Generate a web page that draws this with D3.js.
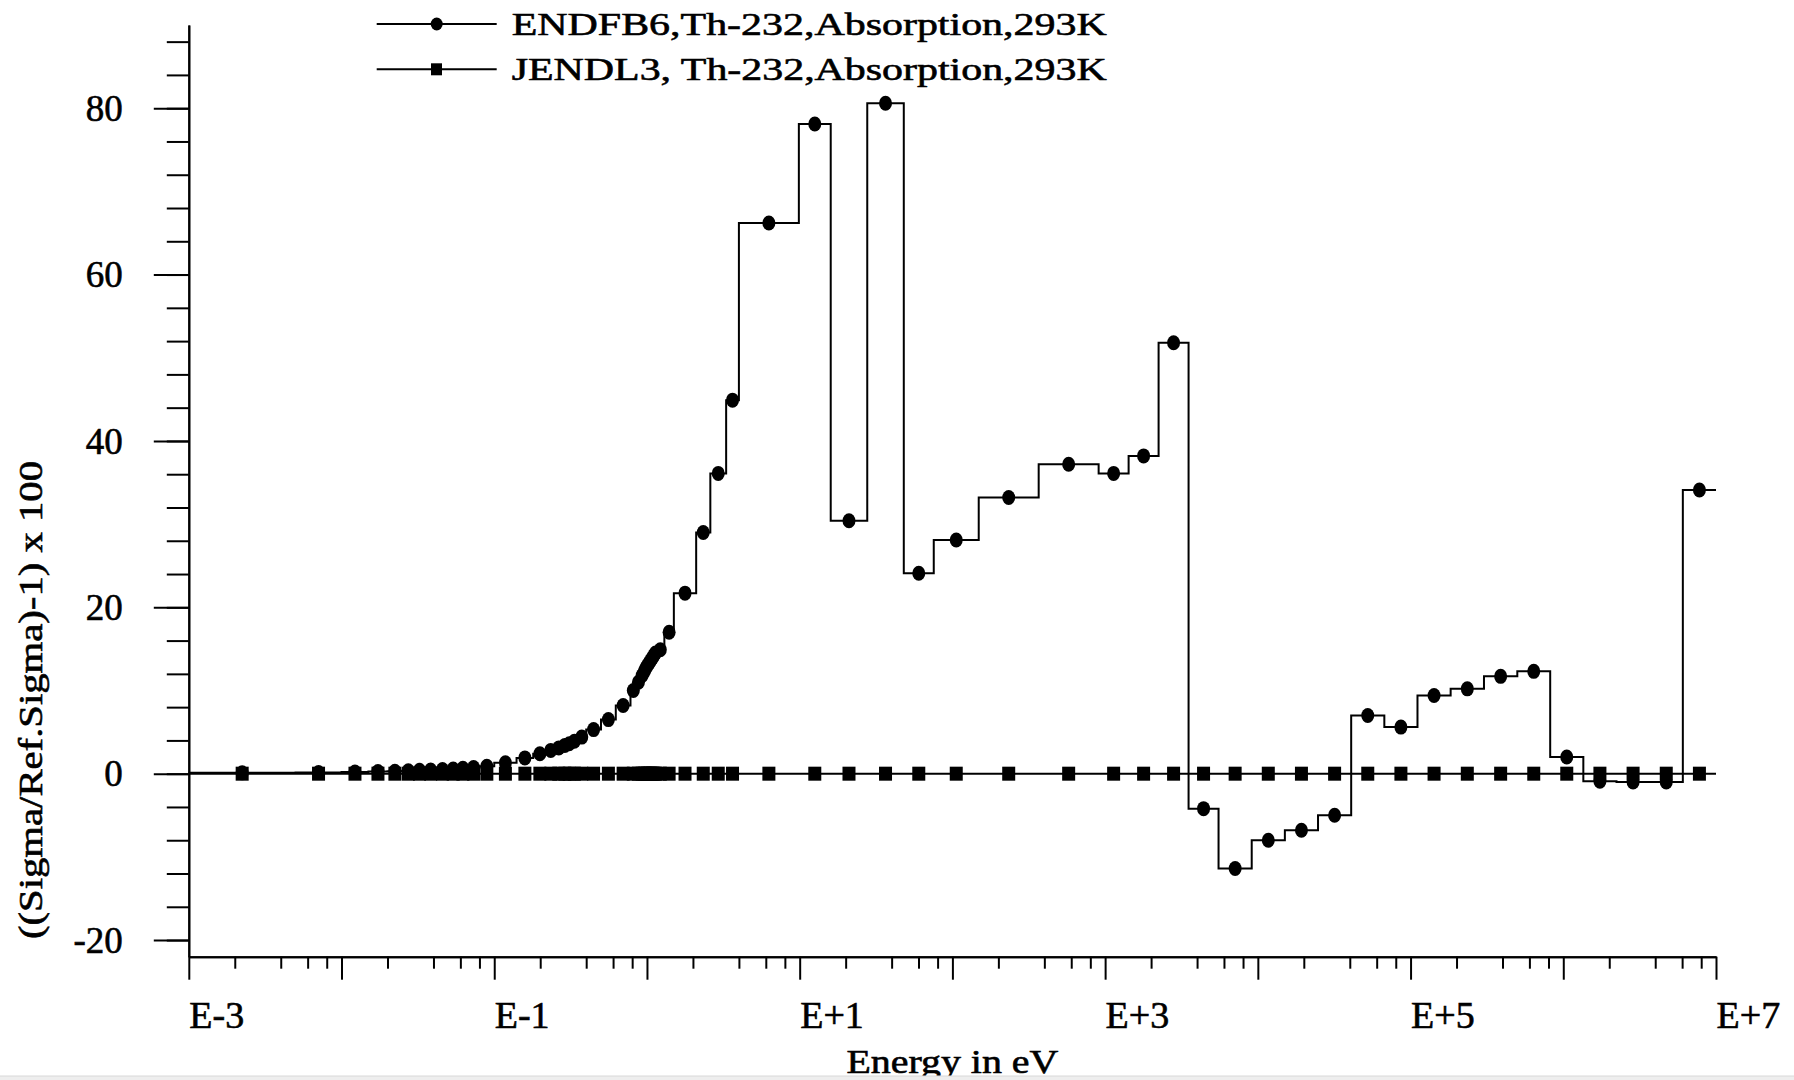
<!DOCTYPE html>
<html>
<head>
<meta charset="utf-8">
<script src="https://cdn.jsdelivr.net/npm/d3@7"></script>
<style>
  html, body { margin: 0; padding: 0; background: #ffffff; }
  svg { display: block; }
  text { font-family: "Liberation Serif", "Times New Roman", serif; fill: #000; stroke: #000; stroke-width: 0.6px; }
</style>
</head>
<body>
<svg id="chart" width="1794" height="1080"></svg>
<script>
// ---- Data (WIMS 69-group structure, plotted from 1E-3 eV) ----
const energyBounds = [0.001, 0.005, 0.01, 0.015, 0.02, 0.025, 0.03, 0.035, 0.042, 0.05,
  0.058, 0.067, 0.08, 0.1, 0.14, 0.18, 0.22, 0.25, 0.28, 0.3, 0.32, 0.35, 0.4, 0.5, 0.625,
  0.78, 0.85, 0.91, 0.95, 0.972, 0.996, 1.02, 1.045, 1.071, 1.097, 1.123, 1.15, 1.3, 1.5,
  2.1, 2.6, 3.3, 4.0, 9.877, 15.968, 27.7, 48.052, 75.5014, 148.728, 367.262, 906.898,
  1425.1, 2239.45, 3519.1, 5530, 9118, 15030, 24780, 40850, 67340, 111000, 183000, 302500,
  500000, 821000, 1353000, 2231000, 3679000, 6065500, 10000000];

const endfb6 = [0.1, 0.15, 0.2, 0.25, 0.3, 0.35, 0.4, 0.45, 0.5, 0.55, 0.65, 0.75, 0.9,
  1.3, 1.9, 2.4, 2.8, 3.1, 3.4, 3.6, 3.9, 4.4, 5.3, 6.5, 8.2,
  10.0, 11.0, 11.8, 12.3, 12.7, 13.0, 13.3, 13.6, 13.9, 14.2, 14.5, 14.9,
  17.0, 21.7, 29.0, 36.1, 44.9, 66.2, 78.1, 30.4, 80.6, 24.1, 28.1, 33.2, 37.2, 36.1, 38.2, 51.8,
  -4.2, -11.4, -8.0, -6.8, -5.0,
  7.0, 5.6, 9.4, 10.2, 11.7, 12.3,
  2.0, -0.9, -1.0, -1.0, 34.1];

const jendl3 = [0, 0, 0, 0, 0, 0, 0, 0, 0, 0, 0, 0, 0, 0, 0, 0, 0, 0, 0, 0, 0, 0, 0,
  0, 0, 0, 0, 0, 0, 0, 0, 0, 0, 0, 0, 0, 0, 0, 0, 0, 0, 0, 0, 0, 0, 0, 0, 0, 0, 0,
  0, 0, 0, 0, 0, 0, 0, 0, 0, 0, 0, 0, 0, 0, 0, 0, 0, 0, 0];

const seriesNames = ["ENDFB6,Th-232,Absorption,293K", "JENDL3, Th-232,Absorption,293K"];
const yMajorTicks = [-20, 0, 20, 40, 60, 80];
const yMajorLabels = ["-20", "0", "20", "40", "60", "80"];
const yMinorTicks = [-20, -16, -12, -8, -4, 0, 4, 8, 12, 16, 20, 24, 28, 32, 36, 40, 44, 48,
  52, 56, 60, 64, 68, 72, 76, 80, 84, 88];
const xMajorTicks = [1e-3, 1e-2, 1e-1, 1e0, 1e1, 1e2, 1e3, 1e4, 1e5, 1e6, 1e7];
const xLabelTicks = [1e-3, 1e-1, 1e1, 1e3, 1e5, 1e7];
const xLabelText = ["E-3", "E-1", "E+1", "E+3", "E+5", "E+7"];
const xMinorMultipliers = [2, 4, 6, 8];
const yTitle = "((Sigma/Ref.Sigma)-1) x 100";
const xTitle = "Energy in eV";

// ---- Layout ----
const L = 188.8, R = 1716, T = 25, B = 956.7;
const svg = d3.select("#chart");
svg.append("rect").attr("width", 1794).attr("height", 1080).attr("fill", "#fff");

const x = d3.scaleLog().domain([1e-3, 1e7]).range([L, R]);
const y = d3.scaleLinear().domain([-22, 90]).range([B, T]);

const xMinorTicks = [];
for (let d = -3; d < 7; d++) xMinorMultipliers.forEach(m => xMinorTicks.push(m * Math.pow(10, d)));

function styleAxis(g) {
  g.selectAll("path.domain").attr("stroke", "#000").attr("stroke-width", 2);
  g.selectAll(".tick line").attr("stroke", "#000").attr("stroke-width", 2);
}

// y axis minor
svg.append("g").attr("transform", `translate(${L},0)`)
  .call(d3.axisLeft(y).tickValues(yMinorTicks).tickSize(22).tickSizeOuter(0).tickFormat(""))
  .call(styleAxis);
// y axis major
const yMaj = svg.append("g").attr("transform", `translate(${L},0)`)
  .call(d3.axisLeft(y).tickValues(yMajorTicks).tickSize(35).tickSizeOuter(0).tickPadding(31)
    .tickFormat((d, i) => yMajorLabels[i]))
  .call(styleAxis);
yMaj.selectAll(".tick text").attr("font-size", 37).attr("font-family", null).attr("dy", "0.33em");

// x axis minor
svg.append("g").attr("transform", `translate(0,${B})`)
  .call(d3.axisBottom(x).tickValues(xMinorTicks).tickSize(12).tickSizeOuter(0).tickFormat(""))
  .call(styleAxis);
// x axis major
svg.append("g").attr("transform", `translate(0,${B})`)
  .call(d3.axisBottom(x).tickValues(xMajorTicks).tickSize(23).tickSizeOuter(0).tickFormat(""))
  .call(styleAxis);
// x labels
const xLab = svg.append("g").attr("transform", `translate(0,${B})`)
  .call(d3.axisBottom(x).tickValues(xLabelTicks).tickSize(0).tickSizeOuter(0)
    .tickFormat((d, i) => xLabelText[i]));
xLab.select("path.domain").remove();
xLab.selectAll(".tick text").attr("font-size", 38).attr("font-family", null)
  .attr("text-anchor", "start").attr("y", 71).attr("dy", 0);

// ---- Step series ----
function stepPoints(vals) {
  const pts = vals.map((v, i) => [energyBounds[i], v]);
  pts.push([energyBounds[vals.length], vals[vals.length - 1]]);
  return pts;
}
const line = d3.line().x(d => x(d[0])).y(d => y(d[1])).curve(d3.curveStepAfter);
const centers = energyBounds.slice(0, -1).map((e, i) => Math.sqrt(e * energyBounds[i + 1]));

svg.append("path").attr("d", line(stepPoints(jendl3)))
  .attr("fill", "none").attr("stroke", "#000").attr("stroke-width", 2);
svg.append("path").attr("d", line(stepPoints(endfb6)))
  .attr("fill", "none").attr("stroke", "#000").attr("stroke-width", 2);

svg.append("g").selectAll("ellipse").data(endfb6).join("ellipse")
  .attr("cx", (d, i) => x(centers[i])).attr("cy", d => y(d)).attr("rx", 6.5).attr("ry", 7.5).attr("fill", "#000");
svg.append("g").selectAll("rect").data(jendl3).join("rect")
  .attr("x", (d, i) => x(centers[i]) - 6.5).attr("y", d => y(d) - 7)
  .attr("width", 13).attr("height", 14).attr("fill", "#000");

// ---- Legend ----
const legend = svg.append("g");
const legendRows = [24, 69.3];
seriesNames.forEach((name, i) => {
  const ly = legendRows[i];
  legend.append("line").attr("x1", 376.7).attr("x2", 496.7).attr("y1", ly).attr("y2", ly)
    .attr("stroke", "#000").attr("stroke-width", 2);
  if (i === 0) legend.append("ellipse").attr("cx", 436.7).attr("cy", ly).attr("rx", 6).attr("ry", 6.5).attr("fill", "#000");
  else legend.append("rect").attr("x", 431).attr("y", ly - 6).attr("width", 11).attr("height", 12).attr("fill", "#000");
  legend.append("text").attr("x", 511.7).attr("y", ly + 11).attr("font-size", 32)
    .attr("textLength", 595).attr("lengthAdjust", "spacingAndGlyphs").text(name);
});

// ---- Axis titles ----
svg.append("text").attr("transform", "translate(42,700) rotate(-90)")
  .attr("text-anchor", "middle").attr("font-size", 33)
  .attr("textLength", 478).attr("lengthAdjust", "spacingAndGlyphs").text(yTitle);
svg.append("text").attr("x", (L + R) / 2).attr("y", 1073).attr("text-anchor", "middle")
  .attr("font-size", 33).attr("textLength", 212).attr("lengthAdjust", "spacingAndGlyphs").text(xTitle);

// bottom grey strip (window edge in reference)
svg.append("rect").attr("x", 0).attr("y", 1076).attr("width", 1794).attr("height", 4).attr("fill", "#eeeeee");
svg.append("line").attr("x1", 0).attr("x2", 1794).attr("y1", 1076).attr("y2", 1076).attr("stroke", "#d8d8d8").attr("stroke-width", 1);
</script>
</body>
</html>
